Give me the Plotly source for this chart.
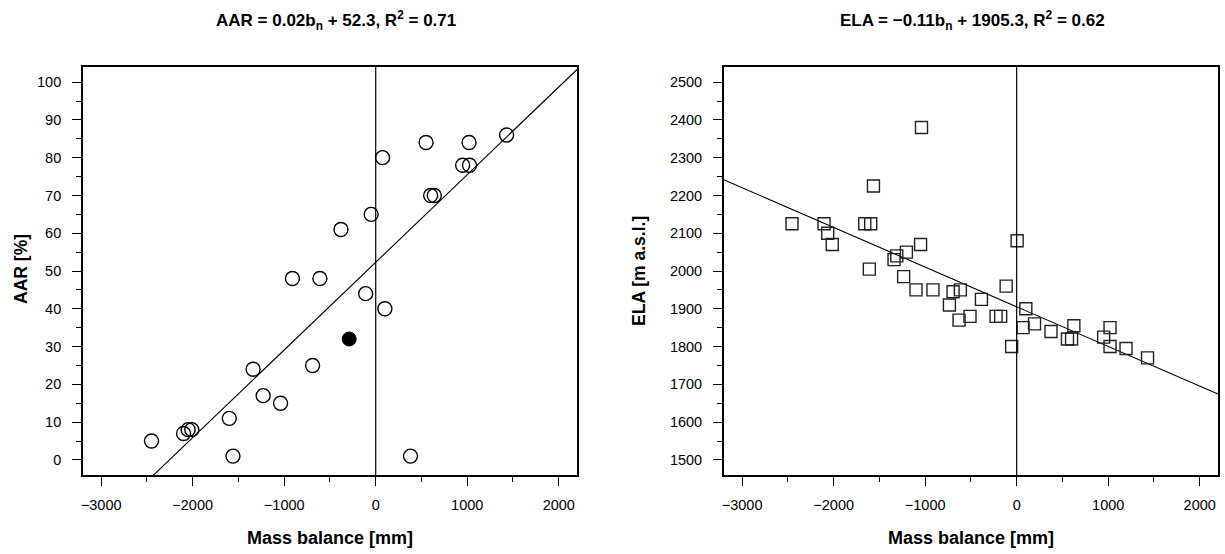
import plotly.graph_objects as go

# ---- data ----
aar_x = [75, 550, 1020, 1430, 950, 1025, 600, 640, -50, -380, -910, -610, -110, 100,
         -690, -1340, -1230, -1040, -1600, -2100, -2050, -2010, -2450, -1560, 380]
aar_y = [80, 84, 84, 86, 78, 78, 70, 70, 65, 61, 48, 48, 44, 40,
         25, 24, 17, 15, 11, 7, 8, 8, 5, 1, 1]
aar_hl_x = [-290]
aar_hl_y = [32]

ela_x = [-1040, -1565, -2455, -2105, -2065, -2015, -1660, -1595, -1610, -1050,
         -1340, -1310, -1205, -1235, -1100, -915, -695, -615, -735, -385,
         -115, 5, 100, -630, -510, -225, -175, -55, 70, 195,
         375, 625, 555, 600, 1020, 950, 1020, 1195, 1430]
ela_y = [2380, 2225, 2125, 2125, 2100, 2070, 2125, 2125, 2005, 2070,
         2030, 2040, 2050, 1985, 1950, 1950, 1945, 1950, 1910, 1925,
         1960, 2080, 1900, 1870, 1880, 1880, 1880, 1800, 1850, 1860,
         1840, 1855, 1820, 1820, 1850, 1825, 1800, 1795, 1770]

aar_fit = (0.0232, 52.3)     # slope, intercept of drawn regression line
ela_fit = (-0.105, 1905.3)

x_ticks = [-3000, -2000, -1000, 0, 1000, 2000]
x_ticktext = ["\u22123000", "\u22122000", "\u22121000", "0", "1000", "2000"]
aar_ticks = list(range(0, 101, 10))
ela_ticks = list(range(1500, 2501, 100))

x_range = [-3200, 2200]
aar_range = [-4, 104]
ela_range = [1460, 2540]

title_left = "<b>AAR = 0.02b<sub>n</sub> + 52.3, R<sup>2</sup> = 0.71</b>"
title_right = "<b>ELA = \u22120.11b<sub>n</sub> + 1905.3, R<sup>2</sup> = 0.62</b>"
xlab = "<b>Mass balance [mm]</b>"
ylab_left = "<b>AAR [%]</b>"
ylab_right = "<b>ELA [m a.s.l.]</b>"

FONT = "Liberation Sans, Arial, sans-serif"
W, H = 1225, 554
# plot boxes in pixels
L1, R1 = 81, 576
L2, R2 = 723, 1218
TOP, BOT = 67, 475

fig = go.Figure()

# regression lines
fx = x_range
fig.add_trace(go.Scatter(x=fx, y=[aar_fit[0] * v + aar_fit[1] for v in fx], mode="lines",
                         line=dict(color="black", width=1.1), xaxis="x", yaxis="y",
                         showlegend=False, hoverinfo="skip"))
fig.add_trace(go.Scatter(x=fx, y=[ela_fit[0] * v + ela_fit[1] for v in fx], mode="lines",
                         line=dict(color="black", width=1.1), xaxis="x2", yaxis="y2",
                         showlegend=False, hoverinfo="skip"))

# points
fig.add_trace(go.Scatter(x=aar_x, y=aar_y, mode="markers", xaxis="x", yaxis="y",
                         marker=dict(symbol="circle-open", size=14, color="black",
                                     line=dict(width=1.4, color="black")),
                         showlegend=False))
fig.add_trace(go.Scatter(x=aar_hl_x, y=aar_hl_y, mode="markers", xaxis="x", yaxis="y",
                         marker=dict(symbol="circle", size=14, color="black",
                                     line=dict(width=1, color="black")),
                         showlegend=False))
fig.add_trace(go.Scatter(x=ela_x, y=ela_y, mode="markers", xaxis="x2", yaxis="y2",
                         marker=dict(symbol="square-open", size=12, color="#222222",
                                     line=dict(width=1.4, color="#222222")),
                         showlegend=False))

# vertical zero lines
for xr, yr in (("x", "y domain"), ("x2", "y2 domain")):
    fig.add_shape(type="line", xref=xr, yref=yr, x0=0, x1=0, y0=0, y1=1,
                  line=dict(color="black", width=1.2), layer="above")

ydom = [(H - BOT) / H, (H - TOP) / H]
common_x = dict(range=x_range, tickmode="array", tickvals=x_ticks, ticktext=x_ticktext,
                ticks="outside", ticklen=9, tickwidth=1.3, tickcolor="black",
                showline=True, mirror=True, linecolor="black", linewidth=1.5,
                showgrid=False, zeroline=False, ticklabelstandoff=7,
                tickfont=dict(family=FONT, size=14.5, color="black"),
                minor=dict(dtick=500, tick0=0, ticks="outside", ticklen=5,
                           tickwidth=1.2, tickcolor="black", showgrid=False))
common_y = dict(ticks="outside", ticklen=9, tickwidth=1.3, tickcolor="black",
                showline=True, mirror=True, linecolor="black", linewidth=1.5,
                showgrid=False, zeroline=False, ticklabelstandoff=8,
                tickfont=dict(family=FONT, size=14.5, color="black"))

fig.update_layout(
    width=W, height=H,
    margin=dict(l=0, r=0, t=0, b=0),
    paper_bgcolor="white", plot_bgcolor="white",
    showlegend=False,
    xaxis=dict(domain=[L1 / W, R1 / W], anchor="y", **common_x),
    xaxis2=dict(domain=[L2 / W, R2 / W], anchor="y2", **common_x),
    yaxis=dict(domain=ydom, anchor="x", range=aar_range, tickmode="array",
               tickvals=aar_ticks, ticktext=[str(v) for v in aar_ticks],
               minor=dict(dtick=5, tick0=0, ticks="outside", ticklen=5, tickwidth=1.2,
                          tickcolor="black", showgrid=False), **common_y),
    yaxis2=dict(domain=ydom, anchor="x2", range=ela_range, tickmode="array",
                tickvals=ela_ticks, ticktext=[str(v) for v in ela_ticks],
                minor=dict(dtick=50, tick0=0, ticks="outside", ticklen=5, tickwidth=1.2,
                           tickcolor="black", showgrid=False), **common_y),
)

def ann(text, px, py, size, angle=0):
    fig.add_annotation(text=text, x=px / W, y=1 - py / H, xref="paper", yref="paper",
                       showarrow=False, textangle=angle, xanchor="center", yanchor="middle",
                       font=dict(family=FONT, size=size, color="black"))

ann(title_left, (L1 + R1) / 2 + 6, 21, 17)
ann(title_right, (L2 + R2) / 2 + 2, 21, 17)
ann(xlab, (L1 + R1) / 2, 538, 18)
ann(xlab, (L2 + R2) / 2, 538, 18)
ann(ylab_left, 19, (TOP + BOT) / 2 - 2, 17.5, -90)
ann(ylab_right, 638, (TOP + BOT) / 2, 17.5, -90)

fig.write_html("out.html", config={"displayModeBar": False},
               post_script="document.body.style.margin='0px';")
